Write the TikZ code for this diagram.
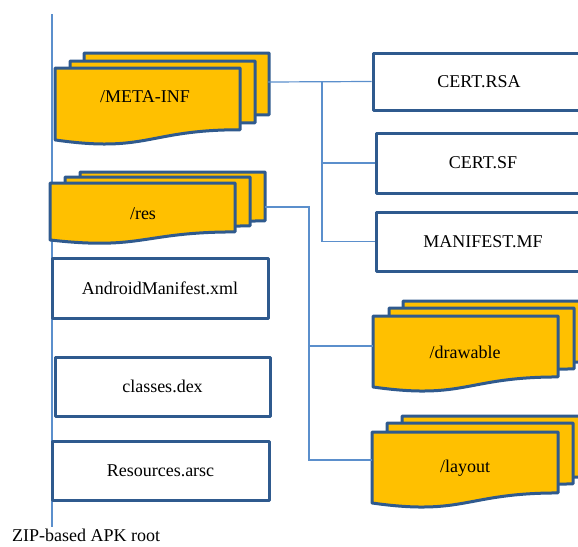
\documentclass[tikz,border=0pt]{standalone}
\usepackage{fontspec}
\setmainfont{Liberation Serif}
\definecolor{docfill}{HTML}{FFC000}
\definecolor{edge}{HTML}{2F5A8E}
\definecolor{wire}{HTML}{5B8FCC}
\tikzset{
  docline/.style={draw=edge, fill=docfill, line width=3pt, line join=round},
  filebox/.style={draw=edge, fill=white, line width=3pt, line join=round, inner sep=0pt, font=\fontsize{18}{20}\selectfont},
  lbl/.style={inner sep=0pt, font=\fontsize{18}{20}\selectfont},
  wireline/.style={draw=wire, line width=1.2pt}
}
\newcommand\apkdoc[4]{%
  \draw[docline] ({#1},{#2}) -- ({#1+#3},{#2}) -- ({#1+#3},{#2+0.802*#4})
    .. controls ({#1+0.5*#3},{#2+0.802*#4}) and ({#1+0.5*#3},{#2+1.107*#4}) .. ({#1},{#2+0.934*#4}) -- cycle;}
% x y w h dx1 dy1 dx2 dy2
\newcommand\apkstack[8]{%
  \apkdoc{#1+#7}{#2-#8}{#3}{#4}%
  \apkdoc{#1+#5}{#2-#6}{#3}{#4}%
  \apkdoc{#1}{#2}{#3}{#4}}
\begin{document}
\begin{tikzpicture}[x=1pt,y=-1pt]
\useasboundingbox (0,0) rectangle (578,546);
% root line
\coordinate (rootT) at (52,14);
\coordinate (rootB) at (52,527);
\draw[wireline] (rootT) -- (rootB);
\node[lbl, anchor=base west] (rootlbl) at (12,541) {ZIP-based APK root};

% folder stacks
\apkstack{55}{68}{185}{77}{15}{7}{29}{15}
\node[lbl] (meta) at (145,97) {/META-INF};
\coordinate (metaR) at (268,82);

\apkstack{50}{183}{185}{61}{15}{6}{30}{11}
\node[lbl] (res) at (143,214) {/res};
\coordinate (resR) at (265,207);

\apkstack{373}{316}{185}{76}{16}{8}{30}{15}
\node[lbl] (drawable) at (465,352) {/drawable};

\apkstack{372}{432}{186}{76}{15}{9}{30}{16}
\node[lbl] (layout) at (465,468) {/layout};

% files
\node[filebox, minimum width=212pt, minimum height=57pt] (rsa) at (479,81.5) {CERT.RSA};
\node[filebox, minimum width=214pt, minimum height=60pt] (sf) at (483,163) {CERT.SF};
\node[filebox, minimum width=214pt, minimum height=59pt] (mf) at (483,241.5) {MANIFEST.MF};
\node[filebox, minimum width=216pt, minimum height=60pt] (am) at (160,288) {AndroidManifest.xml};
\node[filebox, minimum width=215pt, minimum height=59pt] (cd) at (162.5,386.5) {classes.dex};
\node[filebox, minimum width=217pt, minimum height=59pt] (ra) at (160.5,470.5) {Resources.arsc};

% connectors
\coordinate (trunkA) at (322,82);
\draw[wireline] (metaR) -- (rsa.west);
\draw[wireline] (trunkA) |- (mf.west);
\draw[wireline] (trunkA) |- (sf.west);
\coordinate (trunkB) at (309,207);
\coordinate (dw) at (373,346);
\coordinate (lw) at (372,460);
\draw[wireline] (resR) -- (trunkB) |- (lw);
\draw[wireline] (trunkB) |- (dw);
\end{tikzpicture}
\end{document}
